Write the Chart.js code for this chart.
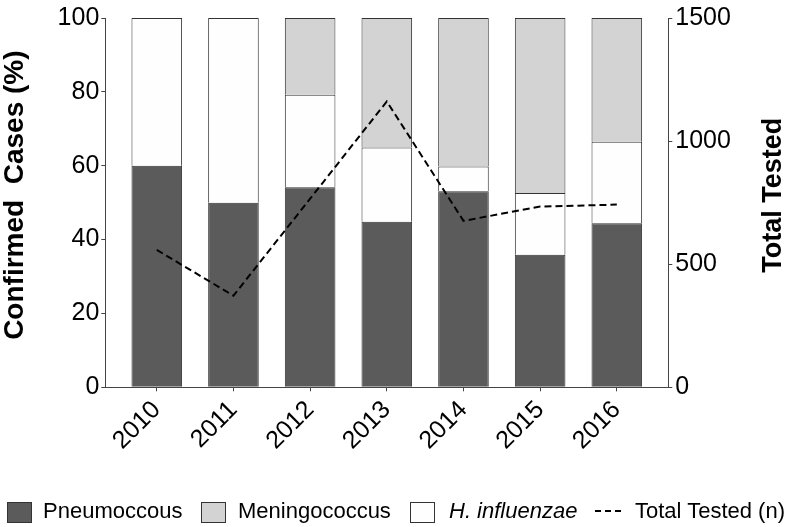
<!DOCTYPE html>
<html>
<head>
<meta charset="utf-8">
<script src="https://cdn.jsdelivr.net/npm/chart.js@4/dist/chart.umd.min.js"></script>
<style>
  html, body { margin: 0; padding: 0; background: #fff; }
  #wrap { position: relative; width: 792px; height: 527px; font-family: "Liberation Sans", Arial, Helvetica, sans-serif; }
  #chart { position: absolute; left: 0; top: 0; }
  .lg { position: absolute; font-size: 22px; color: #000; line-height: 22px; top: 500px; white-space: nowrap; }
  .bx { position: absolute; top: 502px; width: 23px; height: 19px; border: 1px solid #333; box-sizing: content-box; }
</style>
</head>
<body>
<div id="wrap">
  <canvas id="chart" width="792" height="527"></canvas>
  <div class="bx" style="left:7px; background:#5b5b5b;"></div>
  <div class="lg" style="left:43px;">Pneumoccous</div>
  <div class="bx" style="left:201px; background:#d3d3d3;"></div>
  <div class="lg" style="left:238px;">Meningococcus</div>
  <div class="bx" style="left:410px; background:#fefefe;"></div>
  <div class="lg" style="left:449px; font-style:italic;">H. influenzae</div>
  <svg style="position:absolute; left:594px; top:508px;" width="30" height="6">
    <line x1="1" y1="3" x2="29" y2="3" stroke="#000" stroke-width="2" stroke-dasharray="6,4"></line>
  </svg>
  <div class="lg" style="left:635px;">Total Tested (n)</div>
</div>
<script>
const years = ["2010", "2011", "2012", "2013", "2014", "2015", "2016"];
const pneumococcus = [60, 50, 54.2, 44.8, 53.1, 35.9, 44.4];
const hInfluenzae = [40, 50, 25.0, 20.1, 6.7, 16.7, 22.1];
const meningococcus = [0, 0, 20.8, 35.1, 40.2, 47.4, 33.5];
const totalTested = [558, 372, 766, 1161, 676, 734, 742];
const leftTicks = [0, 20, 40, 60, 80, 100];
const rightTicks = [0, 500, 1000, 1500];
const leftTitle = 'Confirmed  Cases (%)';
const rightTitle = 'Total Tested';

const FONT = '"Liberation Sans", Arial, Helvetica, sans-serif';
const pts = arr => arr.map((v, i) => ({ x: i, y: v }));

const axisTitles = {
  id: 'axisTitles',
  afterDraw(chart) {
    const ctx = chart.ctx;
    const area = chart.chartArea;
    const cy = area.top + (area.bottom - area.top) / 2 - 7.5;
    const draw = (text, x, size) => {
      ctx.save();
      ctx.translate(x, cy);
      ctx.rotate(-Math.PI / 2);
      ctx.font = 'bold ' + size + 'px ' + FONT;
      ctx.fillStyle = '#000';
      ctx.textAlign = 'center';
      ctx.textBaseline = 'middle';
      ctx.fillText(text, 0, 0);
      ctx.restore();
    };
    draw(leftTitle, chart.scales.y.left + 15, 28);
    draw(rightTitle, chart.scales.y1.right - 18, 27);
  }
};

new Chart(document.getElementById('chart'), {
  type: 'bar',
  data: {
    datasets: [
      { label: 'Pneumoccous', data: pts(pneumococcus), backgroundColor: '#5b5b5b', borderColor: '#333', borderWidth: 1, yAxisID: 'y', order: 1, barPercentage: 0.66, categoryPercentage: 1 },
      { label: 'H. influenzae', data: pts(hInfluenzae), backgroundColor: '#fefefe', borderColor: '#333', borderWidth: 1, yAxisID: 'y', order: 1, barPercentage: 0.66, categoryPercentage: 1 },
      { label: 'Meningococcus', data: pts(meningococcus), backgroundColor: '#d3d3d3', borderColor: '#333', borderWidth: 1, yAxisID: 'y', order: 1, barPercentage: 0.66, categoryPercentage: 1 },
      { type: 'line', label: 'Total Tested (n)', data: pts(totalTested), yAxisID: 'y1', borderColor: '#000', borderWidth: 2, borderDash: [7, 4], pointRadius: 0, fill: false, tension: 0, order: 0 }
    ]
  },
  plugins: [axisTitles],
  options: {
    responsive: false,
    animation: false,
    layout: { padding: { top: 13, left: 0, right: 0, bottom: 0 } },
    plugins: { legend: { display: false }, tooltip: { enabled: false } },
    scales: {
      x: {
        type: 'linear',
        stacked: true,
        offset: false,
        min: -0.6715,
        max: 6.6715,
        afterBuildTicks: s => { s.ticks = years.map((_, i) => ({ value: i })); },
        afterFit: s => { s.height = 139.7; },
        ticks: {
          autoSkip: false,
          maxRotation: 45,
          minRotation: 45,
          padding: 4,
          color: '#000',
          font: { family: FONT, size: 25 },
          callback: (v, i) => years[i]
        },
        grid: { offset: false, drawOnChartArea: false, drawTicks: true, tickLength: 4, color: '#444' },
        border: { display: true, color: '#444', width: 1 }
      },
      y: {
        position: 'left',
        stacked: true,
        min: 0,
        max: 100,
        afterBuildTicks: s => { s.ticks = leftTicks.map(v => ({ value: v })); },
        afterFit: s => { s.width = 105.3; },
        ticks: { color: '#000', padding: 2, font: { family: FONT, size: 25 }, callback: v => String(v) },
        grid: { drawOnChartArea: false, drawTicks: true, tickLength: 4, color: '#444' },
        border: { display: true, color: '#444', width: 1 },
        title: { display: false }
      },
      y1: {
        position: 'right',
        min: 0,
        max: 1500,
        afterBuildTicks: s => { s.ticks = rightTicks.map(v => ({ value: v })); },
        afterFit: s => { s.width = 123.7; },
        ticks: { color: '#000', padding: 3, font: { family: FONT, size: 25 }, callback: v => String(v) },
        grid: { drawOnChartArea: false, drawTicks: true, tickLength: 4, color: '#444' },
        border: { display: true, color: '#444', width: 1 },
        title: { display: false }
      }
    }
  }
});
</script>
</body>
</html>
